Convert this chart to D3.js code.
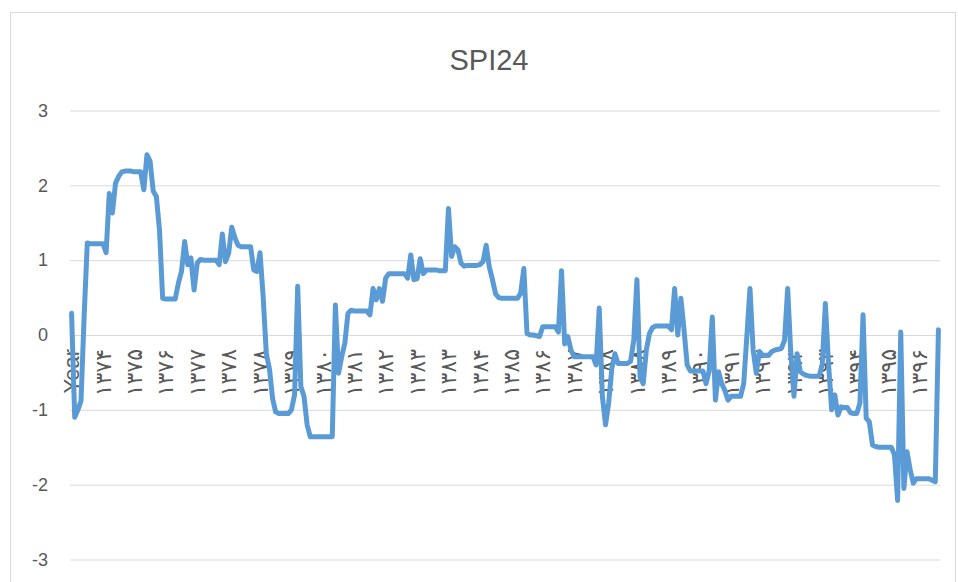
<!DOCTYPE html>
<html>
<head>
<meta charset="utf-8">
<script src="https://cdn.jsdelivr.net/npm/d3@7"></script>
<style>
  body { margin: 0; background: #fff; }
</style>
</head>
<body>
<div id="container"></div>
<script>
/* CONSTANTS AND GLOBALS */
const width = 958,
  height = 582,
  margin = { top: 110, bottom: 22, left: 70, right: 18 };

// header category, then one label per month for each year
const headerLabel = "Year";
const years = ["۱۳۷۴", "۱۳۷۵", "۱۳۷۶", "۱۳۷۷", "۱۳۷۸", "۱۳۷۹", "۱۳۸۰", "۱۳۸۱",
  "۱۳۸۲", "۱۳۸۳", "۱۳۸۴", "۱۳۸۵", "۱۳۸۶", "۱۳۸۷", "۱۳۸۸", "۱۳۸۹", "۱۳۹۰",
  "۱۳۹۱", "۱۳۹۲", "۱۳۹۳", "۱۳۹۴", "۱۳۹۵", "۱۳۹۶"];
const monthsPerYear = 12;
const labelEvery = 10; // excel shows every 10th category

// SPI24 values, one per category
const spi24 = [
  0.29, -1.10, -1.00, -0.88, 0.25, 1.23, 1.22, 1.22, 1.22, 1.22,
  1.22, 1.10, 1.89, 1.63, 2.03, 2.12, 2.18, 2.19, 2.19, 2.19,
  2.18, 2.18, 2.18, 1.94, 2.41, 2.32, 1.92, 1.85, 1.40, 0.49,
  0.48, 0.48, 0.48, 0.48, 0.69, 0.85, 1.25, 0.94, 1.03, 0.60,
  0.96, 1.01, 1.00, 1.00, 1.00, 1.00, 1.00, 0.94, 1.35, 0.98,
  1.09, 1.44, 1.30, 1.20, 1.18, 1.18, 1.18, 1.18, 0.87, 0.85,
  1.10, 0.51, -0.25, -0.45, -0.85, -1.03, -1.05, -1.05, -1.05, -1.05,
  -1.00, -0.80, 0.65, -0.69, -0.82, -1.20, -1.36, -1.36, -1.36, -1.36,
  -1.36, -1.36, -1.36, -1.36, 0.40, -0.51, -0.29, -0.11, 0.29, 0.33,
  0.32, 0.32, 0.32, 0.32, 0.32, 0.27, 0.62, 0.47, 0.62, 0.45,
  0.76, 0.82, 0.82, 0.82, 0.82, 0.82, 0.82, 0.76, 1.07, 0.74,
  0.75, 1.02, 0.82, 0.87, 0.87, 0.87, 0.87, 0.86, 0.86, 0.86,
  1.69, 1.05, 1.18, 1.14, 0.96, 0.92, 0.93, 0.93, 0.93, 0.93,
  0.94, 0.98, 1.20, 0.91, 0.74, 0.55, 0.50, 0.49, 0.49, 0.49,
  0.49, 0.49, 0.49, 0.56, 0.89, 0.02, 0.00, 0.00, -0.01, -0.02,
  0.11, 0.11, 0.11, 0.11, 0.11, 0.04, 0.86, -0.12, -0.02, -0.20,
  -0.29, -0.29, -0.29, -0.29, -0.29, -0.29, -0.29, -0.40, 0.36, -0.82,
  -1.20, -0.91, -0.45, -0.25, -0.38, -0.38, -0.38, -0.38, -0.35, -0.07,
  0.74, -0.56, -0.65, -0.20, 0.02, 0.10, 0.12, 0.12, 0.12, 0.12,
  0.12, 0.07, 0.62, 0.00, 0.49, 0.07, -0.40, -0.48, -0.48, -0.48,
  -0.48, -0.48, -0.65, -0.48, 0.24, -0.87, -0.49, -0.65, -0.74, -0.87,
  -0.82, -0.82, -0.82, -0.82, -0.65, -0.02, 0.62, -0.20, -0.51, -0.22,
  -0.27, -0.27, -0.27, -0.22, -0.20, -0.19, -0.18, -0.07, 0.62, -0.25,
  -0.82, -0.25, -0.49, -0.52, -0.54, -0.55, -0.55, -0.55, -0.55, -0.40,
  0.42, -0.38, -1.00, -0.80, -1.07, -0.96, -0.97, -0.97, -1.04, -1.05,
  -1.05, -0.91, 0.27, -1.11, -1.16, -1.47, -1.49, -1.50, -1.50, -1.50,
  -1.50, -1.50, -1.60, -2.21, 0.04, -2.05, -1.56, -1.80, -1.98, -1.92,
  -1.92, -1.92, -1.92, -1.92, -1.94, -1.96, 0.07
];

const yTicks = [-3, -2, -1, 0, 1, 2, 3];
const title = "SPI24";

let svg, xScale, yScale;

/* DATA */
const categories = [headerLabel];
years.forEach(y => {
  for (let m = 0; m < monthsPerYear; m++) categories.push(y);
});
const data = spi24.map((v, i) => ({ i: i, label: categories[i], value: v }));

init();

function init() {
  xScale = d3.scaleBand()
    .domain(data.map(d => d.i))
    .range([margin.left, width - margin.right])
    .padding(0);

  yScale = d3.scaleLinear()
    .domain([-3, 3])
    .range([height - margin.bottom - 0.5, margin.top + 0.5]);

  svg = d3.select("#container")
    .append("svg")
    .attr("width", width)
    .attr("height", height);

  // chart border
  svg.append("rect")
    .attr("x", 10.5)
    .attr("y", 12.5)
    .attr("width", 945)
    .attr("height", 600)
    .attr("fill", "none")
    .attr("stroke", "#d9d9d9");

  // title
  svg.append("text")
    .attr("x", 489)
    .attr("y", 70)
    .attr("text-anchor", "middle")
    .attr("font-family", "Liberation Sans, Arial, sans-serif")
    .attr("font-size", 29)
    .attr("fill", "#595959")
    .text(title);

  // gridlines + y labels (plain hyphen minus like excel)
  const yAxis = d3.axisLeft(yScale)
    .tickValues(yTicks)
    .tickSize(-(width - margin.left - margin.right))
    .tickPadding(22)
    .tickFormat(d => String(d));

  svg.append("g")
    .attr("class", "y-axis")
    .attr("transform", `translate(${margin.left},0)`)
    .call(yAxis)
    .call(g => g.select(".domain").remove())
    .call(g => g.selectAll(".tick line").attr("stroke", "#d9d9d9"))
    .call(g => g.selectAll(".tick text")
      .attr("font-family", "Liberation Sans, Arial, sans-serif")
      .attr("font-size", 18)
      .attr("fill", "#595959"));

  draw();
}

function draw() {
  const xPos = d => xScale(d.i) + xScale.bandwidth() / 2;

  // category labels, sitting under the zero line like excel does
  const xAxis = d3.axisBottom(xScale)
    .tickValues(data.filter(d => d.i % labelEvery === 0).map(d => d.i))
    .tickSize(0)
    .tickFormat(i => categories[i]);

  svg.append("g")
    .attr("class", "x-axis")
    .attr("transform", `translate(0,${yScale(0)})`)
    .call(xAxis)
    .call(g => g.select(".domain").remove())
    .call(g => g.selectAll(".tick text")
      .attr("y", 0)
      .attr("dy", "0.35em")
      .attr("transform", "translate(0,14) rotate(-90)")
      .attr("text-anchor", "end")
      .attr("font-family", "Liberation Sans, DejaVu Sans, sans-serif")
      .attr("font-size", 22)
      .attr("fill", "#595959"));

  const line = d3.line()
    .x(xPos)
    .y(d => yScale(d.value));

  svg.append("path")
    .datum(data)
    .attr("fill", "none")
    .attr("stroke", "#5b9bd5")
    .attr("stroke-width", 5)
    .attr("stroke-linejoin", "round")
    .attr("stroke-linecap", "round")
    .attr("d", line);
}
</script>
</body>
</html>
